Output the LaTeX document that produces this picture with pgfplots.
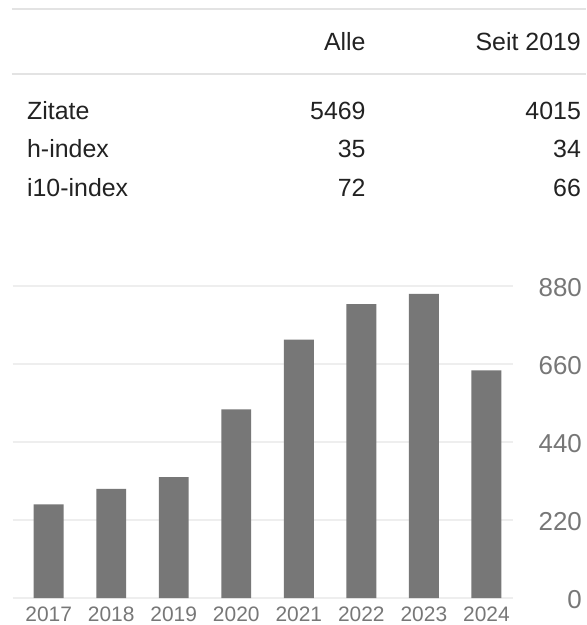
\documentclass[border=0pt]{standalone}
\usepackage{pgfplots}
\pgfplotsset{compat=1.18}
\usepackage{fontspec}
\setmainfont{Liberation Sans}
\definecolor{txt}{HTML}{222222}
\definecolor{lab}{HTML}{777777}
\definecolor{barc}{HTML}{777777}
\definecolor{gridc}{HTML}{EEEEEE}
\definecolor{rulec}{HTML}{E3E3E3}
\begin{document}
\begin{tikzpicture}[x=1pt,y=1pt]
\fill[white] (0,0) rectangle (588,-625);
\draw[rulec, line width=1.5pt] (12,-9) -- (588,-9);
\draw[rulec, line width=1.5pt] (12,-74) -- (588,-74);
\begingroup
\fontsize{25}{29}\selectfont
\node[anchor=base east, text=txt, inner sep=0pt] at (367,-51) {Alle};
\node[anchor=base east, text=txt, inner sep=0pt] at (583,-51) {Seit 2019};
\node[anchor=base west, text=txt, inner sep=0pt] at (27,-120) {Zitate};
\node[anchor=base east, text=txt, inner sep=0pt] at (367,-120) {5469};
\node[anchor=base east, text=txt, inner sep=0pt] at (583,-120) {4015};
\node[anchor=base west, text=txt, inner sep=0pt] at (27,-158.5) {h-index};
\node[anchor=base east, text=txt, inner sep=0pt] at (367,-158.5) {35};
\node[anchor=base east, text=txt, inner sep=0pt] at (583,-158.5) {34};
\node[anchor=base west, text=txt, inner sep=0pt] at (27,-197) {i10-index};
\node[anchor=base east, text=txt, inner sep=0pt] at (367,-197) {72};
\node[anchor=base east, text=txt, inner sep=0pt] at (583,-197) {66};
\endgroup
\begin{axis}[
  at={(13pt,-600pt)}, anchor=south west,
  scale only axis, width=502pt, height=313pt,
  xmin=-0.571, xmax=7.43, ymin=0, ymax=880,
  axis line style={draw=none},
  major tick length=0pt,
  ymajorgrids, grid style={gridc, line width=1.2pt},
  ytick={0,220,440,660,880},
  yticklabels={0,220,440,660,880},
  yticklabel pos=right,
  yticklabel style={anchor=east, inner xsep=0pt, xshift=69pt, yshift=-2pt, text=lab, font=\fontsize{26}{30}\selectfont},
  xtick={0,1,2,3,4,5,6,7},
  xticklabels={2017,2018,2019,2020,2021,2022,2023,2024},
  xticklabel style={text=lab, font=\fontsize{21}{24}\selectfont, inner ysep=3pt, yshift=-6pt},
  /pgf/number format/assume math mode=true,
  clip=false,
]
\addplot[ybar, bar width=30pt, fill=barc, draw=none] coordinates {
(0,264) (1,308) (2,341) (3,532) (4,729) (5,829) (6,858) (7,642)
};
\end{axis}
\end{tikzpicture}
\end{document}
